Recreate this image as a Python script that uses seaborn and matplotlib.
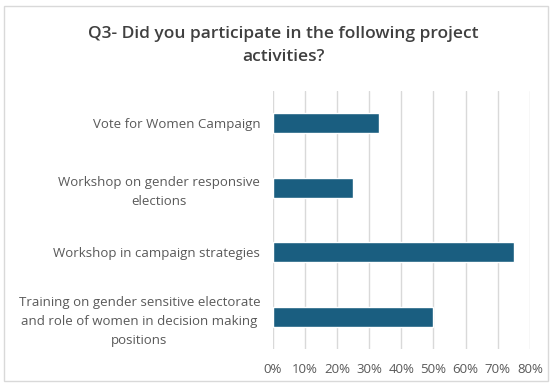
import matplotlib
matplotlib.use("Agg")
import matplotlib.pyplot as plt
import seaborn as sns
import pandas as pd
from matplotlib.patches import Rectangle
from matplotlib.ticker import PercentFormatter

activities = [
    "Vote for Women Campaign",
    "Workshop on gender responsive\nelections",
    "Workshop in campaign strategies",
    "Training on gender sensitive electorate\nand role of women in decision making\npositions",
]
shares = [0.33, 0.25, 0.75, 0.50]
x_ticks = [0, 0.1, 0.2, 0.3, 0.4, 0.5, 0.6, 0.7, 0.8]

df = pd.DataFrame({"activity": activities, "share": shares})

sns.set_theme(style="white")
plt.rcParams["font.family"] = ["Open Sans", "DejaVu Sans"]

fig = plt.figure(figsize=(5.52, 3.85), dpi=100)
ax = fig.add_axes([0.494, 0.0935, 0.466, 0.67])

sns.barplot(data=df, x="share", y="activity", color="#1a5e80", width=0.31,
            saturation=1, ax=ax, orient="h")

ax.set_xlim(0, 0.8)
ax.set_xticks(x_ticks)
ax.xaxis.set_major_formatter(PercentFormatter(1.0, decimals=0))
ax.grid(axis="x", color="#d9d9d9", linewidth=1)
ax.set_axisbelow(True)
for s in ax.spines.values():
    s.set_visible(False)
ax.set_xlabel("")
ax.set_ylabel("")
ax.tick_params(axis="x", colors="#595959", labelsize=9.5, length=0, pad=10)
ax.tick_params(axis="y", colors="#595959", labelsize=9.5, length=0, pad=9)
for lbl in ax.get_yticklabels():
    lbl.set_multialignment("center")
    lbl.set_linespacing(1.6)

fig.text(0.514, 0.882, "Q3- Did you participate in the following project\nactivities?",
         ha="center", va="center", fontsize=12.5, fontweight="semibold",
         color="#404040", linespacing=1.55)

fig.patches.append(Rectangle((0.008, 0.01), 0.984, 0.975, transform=fig.transFigure,
                             fill=False, edgecolor="#d9d9d9", linewidth=1))

fig.savefig("out.png", dpi=100)
